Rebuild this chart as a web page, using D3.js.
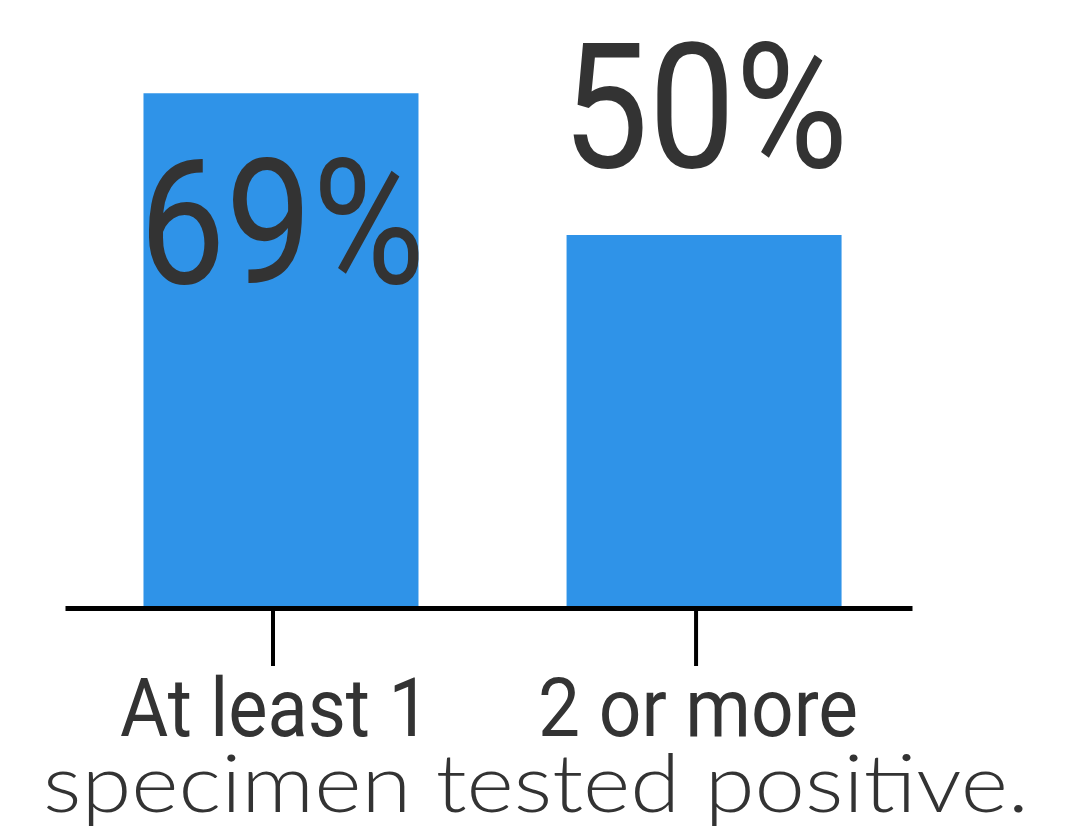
<!DOCTYPE html>
<html>
<head>
<meta charset="utf-8">
<script src="https://cdn.jsdelivr.net/npm/d3@7"></script>
<style>
  html, body { margin: 0; padding: 0; background: #fff; }
  svg { display: block; }
</style>
</head>
<body>
<div id="chart"></div>
<script>
'use strict';

// chart values
var categories = ['At least 1', '2 or more'];
var shares = [0.69, 0.50];
var valueLabels = ['69%', '50%'];
var caption = 'specimen tested positive.';

var width = 1084,
    height = 830,
    baseline = 608;

var svg = d3.select('#chart')
    .append('svg')
    .attr('width', width)
    .attr('height', height);

var x = d3.scaleBand()
    .domain(categories)
    .range([65, 912])
    .paddingInner(0.35)
    .paddingOuter(0.176)
    .align(0.527);

var y = d3.scaleLinear()
    .domain([0, 1])
    .range([baseline, baseline - 746]);

var data = categories.map(function(c, i) {
    return { cat: c, value: shares[i], label: valueLabels[i] };
});

// bars
svg.selectAll('rect.bar')
    .data(data)
    .enter().append('rect')
    .attr('class', 'bar')
    .attr('x', function(d) { return x(d.cat); })
    .attr('y', function(d) { return y(d.value); })
    .attr('width', x.bandwidth())
    .attr('height', function(d) { return baseline - y(d.value); })
    .attr('fill', '#2f93e8');

// axis
var axis = svg.append('g')
    .attr('transform', 'translate(0,' + baseline + ')')
    .call(d3.axisBottom(x).tickSize(58).tickSizeOuter(0).tickPadding(12));

axis.select('.domain')
    .attr('stroke', '#000')
    .attr('stroke-width', 5);
axis.selectAll('.tick line')
    .attr('stroke', '#000')
    .attr('stroke-width', 4)
    .attr('transform', 'translate(-8,0)');
axis.selectAll('.tick text')
    .attr('fill', '#333')
    .attr('dy', '0.71em')
    .style('font-family', 'Roboto, "DejaVu Sans", sans-serif')
    .style('font-size', '82px')
    .style('font-weight', 400)
    .attr('textLength', function(d, i) { return i === 0 ? 310 : 320; })
    .attr('lengthAdjust', 'spacingAndGlyphs')
    .attr('transform', 'translate(-6,0)');

// value labels: big share sits inside its bar, small one above
svg.selectAll('text.value')
    .data(data)
    .enter().append('text')
    .attr('class', 'value')
    .attr('x', function(d) { return x(d.cat) + x.bandwidth() / 2 + 1; })
    .attr('y', function(d) {
        return d.value > 0.6 ? y(d.value) + 190 : y(d.value) - 68;
    })
    .attr('text-anchor', 'middle')
    .attr('fill', '#333')
    .style('font-family', 'Roboto, "DejaVu Sans", sans-serif')
    .style('font-size', '174px')
    .attr('textLength', function(d) { return d.value > 0.6 ? 286 : 286; })
    .attr('lengthAdjust', 'spacingAndGlyphs')
    .text(function(d) { return d.label; });

// caption under the axis labels
svg.append('text')
    .attr('x', 43)
    .attr('y', 812)
    .attr('fill', '#333')
    .style('font-family', 'Lato, "Open Sans", sans-serif')
    .style('font-size', '80px')
    .style('font-weight', 300)
    .attr('textLength', 986)
    .attr('lengthAdjust', 'spacingAndGlyphs')
    .text(caption);
</script>
</body>
</html>
